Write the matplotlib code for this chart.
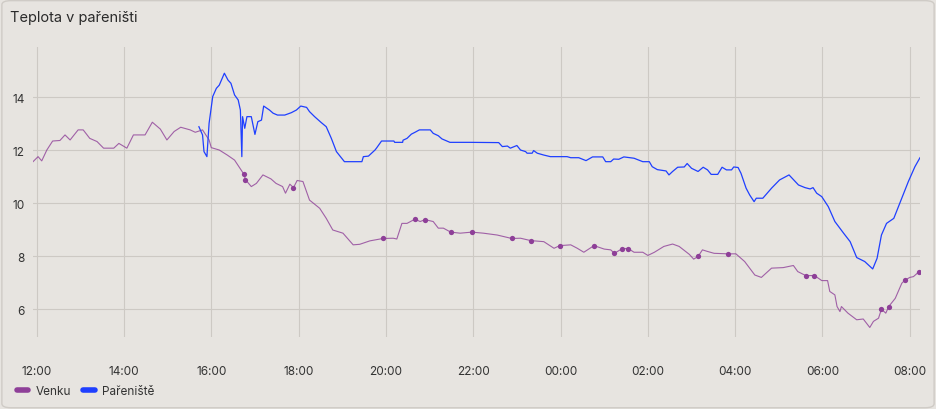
import numpy as np
import pandas as pd
import matplotlib
matplotlib.use("Agg")
import matplotlib.pyplot as plt
import matplotlib.dates as mdates
from matplotlib.lines import Line2D
from matplotlib.patches import FancyBboxPatch

plt.rcParams["font.family"] = ["Inter", "DejaVu Sans"]

# minutes after 12:00, temperature in degC
venku_min = [-5, 2, 7, 14, 22, 32, 39, 46, 57, 64, 73, 83, 92, 106, 113, 124, 133, 149,
             159, 170, 179, 189, 198, 211, 218, 228, 237, 240, 251, 262, 272, 285, 287,
             295, 302, 311, 322, 329, 338, 342, 348, 353, 358, 366, 375, 389, 398, 407,
             421, 435, 444, 458, 476, 490, 495, 502, 509, 520, 527, 534, 545, 552, 559,
             569, 582, 598, 614, 633, 642, 653, 665, 679, 697, 711, 719, 734, 743, 752,
             766, 780, 789, 794, 805, 813, 821, 833, 840, 849, 862, 874, 883, 897, 903,
             909, 915, 922, 931, 950, 961, 973, 987, 996, 1010, 1026, 1040, 1046, 1057,
             1069, 1079, 1087, 1090, 1097, 1100, 1104, 1106, 1115, 1127, 1136, 1145,
             1150, 1157, 1161, 1167, 1171, 1180, 1189, 1193, 1200, 1205, 1212]
venku_val = [11.57, 11.76, 11.60, 12.01, 12.35, 12.37, 12.58, 12.39, 12.77, 12.77, 12.45,
             12.33, 12.08, 12.08, 12.26, 12.08, 12.58, 12.58, 13.06, 12.80, 12.39, 12.71,
             12.87, 12.77, 12.68, 12.77, 12.39, 12.10, 12.01, 11.82, 11.63, 11.09, 10.89,
             10.63, 10.75, 11.07, 10.92, 10.75, 10.63, 10.38, 10.72, 10.59, 10.86, 10.82,
             10.12, 9.81, 9.43, 8.99, 8.87, 8.43, 8.45, 8.58, 8.67, 8.68, 8.65, 9.24, 9.24,
             9.40, 9.31, 9.38, 9.31, 9.06, 9.06, 8.91, 8.87, 8.91, 8.87, 8.80, 8.74, 8.67,
             8.68, 8.59, 8.55, 8.30, 8.40, 8.43, 8.30, 8.15, 8.40, 8.27, 8.24, 8.11, 8.29,
             8.29, 8.15, 8.15, 8.03, 8.15, 8.37, 8.46, 8.37, 8.07, 7.89, 7.99, 8.24, 8.18,
             8.11, 8.09, 8.09, 7.80, 7.29, 7.20, 7.55, 7.57, 7.65, 7.42, 7.27, 7.27, 7.08,
             7.08, 6.67, 6.54, 6.10, 5.91, 6.10, 5.85, 5.60, 5.63, 5.31, 5.54, 5.66, 6.00,
             5.85, 6.10, 6.41, 6.98, 7.09, 7.20, 7.23, 7.40]
# isolated readings shown as dots
venku_dots = [31, 32, 41, 52, 57, 59, 63, 65, 69, 71, 74, 78, 81, 82, 83, 93, 97, 106,
              107, 121, 123, 126, 129]

parenist_min = [223, 228, 230, 234, 237, 242, 247, 251, 258, 263, 267, 272, 277, 280, 282,
                283, 286, 289, 295, 300, 304, 309, 312, 320, 325, 331, 341, 350, 357, 363,
                371, 375, 382, 391, 398, 405, 412, 423, 447, 449, 456, 465, 467, 474, 491,
                492, 503, 503.5, 509, 515, 520, 526, 541, 545, 552, 557, 568, 596, 635, 640,
                647, 651, 660, 665, 672, 674, 681, 683, 688, 697, 706, 729, 734, 745, 755,
                764, 778, 782, 789, 793, 800, 807, 821, 833, 842, 846, 853, 865, 869, 874,
                881, 890, 894, 900, 909, 916, 922, 927, 936, 942, 948, 955, 958, 964, 968,
                975, 980, 986, 989, 998, 1010, 1021, 1034, 1047, 1056, 1063, 1067, 1072,
                1079, 1088, 1097, 1109, 1118, 1127, 1138, 1149, 1155, 1161, 1168, 1178,
                1189, 1198, 1207, 1214]
parenist_val = [12.89, 12.58, 11.95, 11.76, 13.02, 14.03, 14.34, 14.46, 14.91, 14.65, 14.53,
                14.09, 13.90, 13.52, 11.76, 13.27, 12.83, 13.27, 13.27, 12.60, 13.08, 13.14,
                13.67, 13.52, 13.40, 13.33, 13.33, 13.42, 13.52, 13.67, 13.62, 13.46, 13.27,
                13.05, 12.89, 12.45, 11.95, 11.57, 11.57, 11.76, 11.78, 12.01, 12.08, 12.35,
                12.35, 12.30, 12.30, 12.38, 12.45, 12.61, 12.68, 12.77, 12.77, 12.64, 12.55,
                12.43, 12.30, 12.30, 12.29, 12.14, 12.16, 12.08, 12.18, 12.01, 11.95, 11.89,
                11.89, 11.99, 11.89, 11.82, 11.76, 11.76, 11.72, 11.72, 11.61, 11.75, 11.75,
                11.57, 11.57, 11.67, 11.66, 11.75, 11.70, 11.57, 11.57, 11.38, 11.27, 11.22,
                11.07, 11.20, 11.36, 11.37, 11.50, 11.32, 11.20, 11.36, 11.26, 11.09, 11.09,
                11.36, 11.26, 11.26, 11.37, 11.35, 11.13, 10.57, 10.31, 10.06, 10.19, 10.19,
                10.57, 10.88, 11.07, 10.69, 10.59, 10.54, 10.59, 10.38, 10.25, 9.87, 9.31,
                8.87, 8.55, 7.95, 7.80, 7.52, 7.92, 8.80, 9.24, 9.43, 10.19, 10.82, 11.38,
                11.72]

y_ticks = [6, 8, 10, 12, 14]
start = pd.Timestamp("2024-05-01 12:00")
venku_t = start + pd.to_timedelta(venku_min, unit="min")
parenist_t = start + pd.to_timedelta(parenist_min, unit="min")
x_ticks = start + pd.to_timedelta(np.arange(0, 1201, 120), unit="min")

bg = "#e7e4e0"
purple = "#8e3f98"
blue = "#1f3fff"

fig = plt.figure(figsize=(9.36, 4.10), dpi=100, facecolor=bg)
fig.patches.append(FancyBboxPatch((0.002, 0.003), 0.996, 0.993, boxstyle="round,pad=0,rounding_size=0.01",
                                  transform=fig.transFigure, facecolor=bg, edgecolor="#cfcbc6",
                                  linewidth=1, zorder=-1))
ax = fig.add_axes([33 / 936, 1 - 338 / 410, 887 / 936, 290 / 410])
ax.set_facecolor("none")

ax.plot(venku_t, venku_val, color=purple, lw=0.8, alpha=0.8)
vd = np.array(venku_dots)
ax.plot(venku_t[vd], np.array(venku_val)[vd], "o", color=purple, ms=3.8, mec="none")
ax.plot(parenist_t, parenist_val, color=blue, lw=0.9)

ax.set_xlim(venku_t[0], parenist_t[-1])
ax.set_ylim(4.95, 15.9)
ax.set_yticks(y_ticks)
ax.set_xticks(x_ticks)
ax.xaxis.set_major_formatter(mdates.DateFormatter("%H:%M"))
ax.grid(True, color="#cdc9c4", lw=0.8)
ax.set_axisbelow(True)
for s in ax.spines.values():
    s.set_visible(False)
ax.tick_params(length=0, labelsize=8.5, colors="#333333", pad=6)
ax.tick_params(axis="x", pad=20)

fig.text(10 / 936, 1 - 18 / 410, "Teplota v pařeništi", fontsize=10.5, color="#2a2a2a", va="center")

handles = [Line2D([0], [0], color=purple, lw=4, solid_capstyle="round"),
           Line2D([0], [0], color=blue, lw=4, solid_capstyle="round")]
fig.legend(handles, ["Venku", "Pařeniště"], loc="center left", bbox_to_anchor=(6 / 936, 1 - 392 / 410),
           ncol=2, frameon=False, fontsize=8.5, handlelength=1.0, handletextpad=0.6, columnspacing=1.0,
           labelcolor="#333333")

fig.savefig("out.png", dpi=100, facecolor=bg)
